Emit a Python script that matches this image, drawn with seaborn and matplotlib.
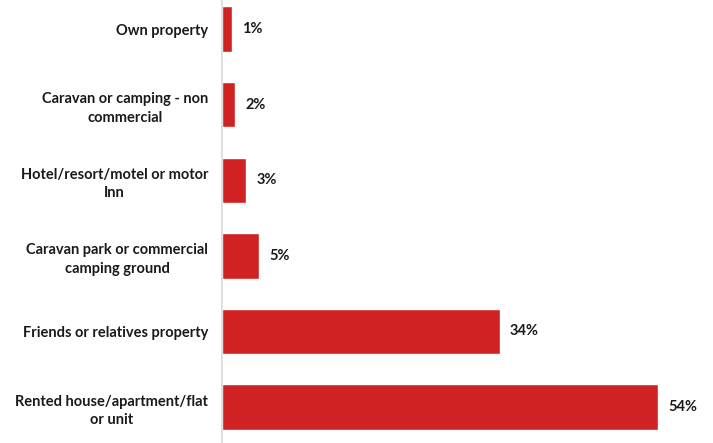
import numpy as np
import pandas as pd
import matplotlib.pyplot as plt
import seaborn as sns

# 住宿類型與比例 (%)
categories = [
    "Own property",
    "Caravan or camping - non\ncommercial",
    "Hotel/resort/motel or motor\nInn",
    "Caravan park or commercial\ncamping ground",
    "Friends or relatives property",
    "Rented house/apartment/flat\nor unit",
]
shares = [1.2, 1.6, 3.0, 4.6, 34.4, 54.0]

df = pd.DataFrame({"category": categories, "share": shares})

sns.set_theme(style="white")
plt.rcParams['font.family'] = ['Lato', 'DejaVu Sans']

fig = plt.figure(figsize=(7.13, 4.43), dpi=100)
ax = fig.add_axes([222 / 713, 0, 1 - 222 / 713, 1])

sns.barplot(data=df, x="share", y="category", orient="h", color="#D02222",
            saturation=1, width=0.6, ax=ax)

ax.set_xlim(0, 60.8)
ax.set_ylim(5.476, -0.384)
ax.set_xlabel("")
ax.set_ylabel("")
ax.set_xticks([])

for s in ["top", "right", "bottom"]:
    ax.spines[s].set_visible(False)
ax.spines["left"].set_color("#d9d9d9")
ax.spines["left"].set_linewidth(1.2)

ax.tick_params(axis="y", length=0, pad=10)
for lbl in ax.get_yticklabels():
    lbl.set_fontweight("bold")
    lbl.set_fontsize(10.5)
    lbl.set_multialignment("center")
    lbl.set_linespacing(1.4)
    lbl.set_color("#1a1a1a")

# 數值標籤
for i, v in enumerate(shares):
    ax.text(v + 1.25, i, f"{v:.0f}%", va="center", ha="left",
            fontsize=10.5, fontweight="bold", color="#1a1a1a")

fig.savefig("out.png", dpi=100)
